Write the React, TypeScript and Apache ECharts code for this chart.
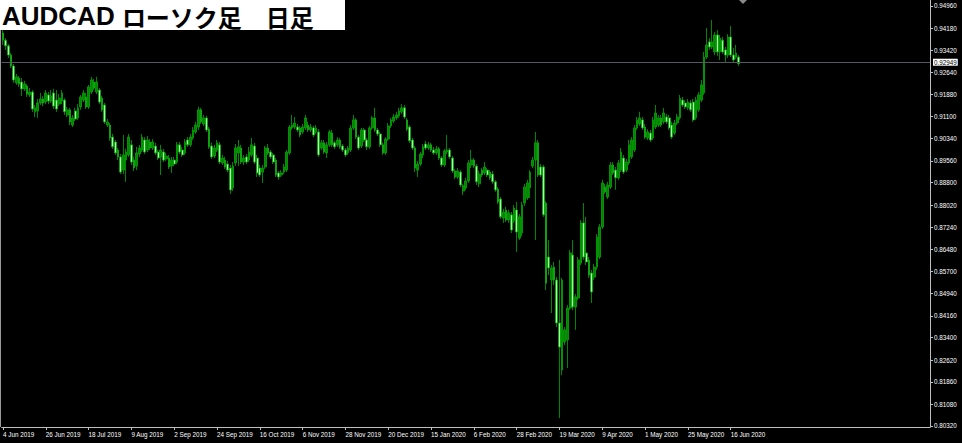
import React, { useEffect, useRef } from "react";
import * as echarts from "echarts";

const titleLatin = "AUDCAD ";
const titleJa = "ローソク足　日足";
const tickLabels = [
  "4 Jun 2019", "26 Jun 2019", "18 Jul 2019", "9 Aug 2019", "2 Sep 2019", "24 Sep 2019",
  "16 Oct 2019", "6 Nov 2019", "28 Nov 2019", "20 Dec 2019", "15 Jan 2020", "6 Feb 2020",
  "28 Feb 2020", "19 Mar 2020", "9 Apr 2020", "1 May 2020", "25 May 2020", "16 Jun 2020",
];
const barsPerLabel = 16;
const slotCount = 347;
const priceTicks = [
  0.8032, 0.8108, 0.8186, 0.8262, 0.834, 0.8416, 0.8494, 0.857, 0.8648, 0.8724,
  0.8802, 0.888, 0.8956, 0.9034, 0.911, 0.9188, 0.9264, 0.9342, 0.9418, 0.9496,
];
const yMin = 0.80285;
const yMax = 0.95169;
const lastPrice = 0.92949;

// [open, close, low, high]
const candles = [
  [0.9402, 0.9377, 0.936, 0.9412], [0.9377, 0.9357, 0.9343, 0.9384], [0.9357, 0.9325, 0.9315, 0.9363],
  [0.9325, 0.9287, 0.928, 0.9332], [0.9287, 0.9238, 0.9228, 0.9294], [0.9228, 0.9249, 0.9221, 0.9259],
  [0.9245, 0.9224, 0.9214, 0.9252], [0.9231, 0.9207, 0.9182, 0.9245], [0.9207, 0.9224, 0.92, 0.9235],
  [0.9217, 0.9189, 0.9179, 0.9224], [0.9186, 0.9196, 0.9179, 0.921], [0.9196, 0.9137, 0.9127, 0.9203],
  [0.9127, 0.9141, 0.9109, 0.9151], [0.913, 0.9158, 0.9106, 0.9172], [0.9158, 0.9172, 0.9151, 0.9193],
  [0.9172, 0.9158, 0.9147, 0.9182], [0.9161, 0.9193, 0.9154, 0.9203], [0.9186, 0.9165, 0.9154, 0.9196],
  [0.9165, 0.9182, 0.9158, 0.9203], [0.9193, 0.9147, 0.9137, 0.9207], [0.9168, 0.9137, 0.9127, 0.9203],
  [0.9154, 0.9175, 0.9147, 0.9189], [0.9165, 0.9193, 0.9154, 0.9203], [0.9168, 0.9127, 0.9116, 0.9175],
  [0.9116, 0.9134, 0.9109, 0.9144], [0.9134, 0.9092, 0.9081, 0.9141], [0.9081, 0.9106, 0.9074, 0.9116],
  [0.913, 0.9102, 0.9095, 0.9141], [0.9106, 0.9141, 0.9099, 0.9154], [0.9144, 0.9179, 0.9134, 0.9186],
  [0.9168, 0.9193, 0.9161, 0.9203], [0.9179, 0.9144, 0.9137, 0.9193], [0.9144, 0.9214, 0.9137, 0.9221],
  [0.9196, 0.9238, 0.9189, 0.9249], [0.9231, 0.921, 0.9203, 0.9242], [0.9196, 0.9231, 0.9189, 0.9249],
  [0.9203, 0.9161, 0.9154, 0.921], [0.9175, 0.9134, 0.9127, 0.9182], [0.9151, 0.9092, 0.9085, 0.9158],
  [0.9081, 0.9092, 0.9074, 0.9102], [0.9081, 0.9036, 0.9026, 0.9088], [0.9039, 0.9005, 0.8998, 0.905],
  [0.9022, 0.8984, 0.8977, 0.9029], [0.8994, 0.897, 0.8959, 0.9001], [0.897, 0.8917, 0.891, 0.898],
  [0.8924, 0.8977, 0.891, 0.9046], [0.8959, 0.8987, 0.8883, 0.8998], [0.8977, 0.9039, 0.897, 0.905],
  [0.9012, 0.8952, 0.8942, 0.9029], [0.8959, 0.8931, 0.8921, 0.897], [0.8938, 0.8984, 0.8924, 0.9005],
  [0.898, 0.9001, 0.897, 0.9012], [0.8994, 0.9039, 0.8987, 0.905], [0.9029, 0.8987, 0.898, 0.9039],
  [0.8994, 0.9029, 0.8987, 0.9043], [0.9022, 0.9001, 0.8994, 0.9032], [0.9001, 0.9022, 0.8994, 0.9032],
  [0.9008, 0.8984, 0.8977, 0.9019], [0.8987, 0.8966, 0.8959, 0.8994], [0.897, 0.8994, 0.8907, 0.9012],
  [0.8987, 0.8959, 0.8952, 0.8998], [0.8963, 0.8973, 0.8956, 0.8984], [0.8966, 0.8935, 0.8928, 0.8977],
  [0.8938, 0.8959, 0.8914, 0.897], [0.8959, 0.8945, 0.8938, 0.897], [0.8952, 0.9012, 0.8945, 0.9022],
  [0.9012, 0.8987, 0.898, 0.9022], [0.8994, 0.8977, 0.897, 0.9005], [0.8984, 0.9022, 0.8977, 0.9032],
  [0.9029, 0.9012, 0.9005, 0.9039], [0.9012, 0.9039, 0.9005, 0.905], [0.9036, 0.9064, 0.9029, 0.9074],
  [0.9057, 0.9081, 0.905, 0.9092], [0.9074, 0.9134, 0.9064, 0.9144], [0.9134, 0.9092, 0.9085, 0.9141],
  [0.9085, 0.9106, 0.9078, 0.9116], [0.9106, 0.9064, 0.9057, 0.9113], [0.9067, 0.9005, 0.8998, 0.9074],
  [0.9008, 0.897, 0.8963, 0.9019], [0.8973, 0.9001, 0.8966, 0.9012], [0.8994, 0.9019, 0.8987, 0.9029],
  [0.9012, 0.8952, 0.8945, 0.9022], [0.8949, 0.8966, 0.8942, 0.8977], [0.8959, 0.8935, 0.8928, 0.897],
  [0.8945, 0.8924, 0.8917, 0.8956], [0.8931, 0.8855, 0.8841, 0.8942], [0.8862, 0.8938, 0.8851, 0.8952],
  [0.8949, 0.9001, 0.8938, 0.9015], [0.8984, 0.9005, 0.8938, 0.9029], [0.9001, 0.8952, 0.8945, 0.9012],
  [0.8952, 0.8966, 0.8942, 0.8977], [0.897, 0.8952, 0.8945, 0.898], [0.8959, 0.8987, 0.8952, 0.9005],
  [0.8977, 0.9012, 0.897, 0.9036], [0.9008, 0.8952, 0.8945, 0.9019], [0.8966, 0.8914, 0.89, 0.8977],
  [0.8931, 0.8907, 0.89, 0.8942], [0.8917, 0.8931, 0.8879, 0.8942], [0.8935, 0.9001, 0.8928, 0.9008],
  [0.9001, 0.8984, 0.8977, 0.9015], [0.8987, 0.897, 0.8963, 0.8994], [0.8977, 0.8952, 0.8945, 0.8984],
  [0.8959, 0.8907, 0.89, 0.8966], [0.8914, 0.89, 0.889, 0.8921], [0.8907, 0.8914, 0.89, 0.8924],
  [0.8917, 0.8935, 0.891, 0.8945], [0.8924, 0.8987, 0.8917, 0.8994], [0.8984, 0.9074, 0.8977, 0.9081],
  [0.9071, 0.9081, 0.9064, 0.9116], [0.9074, 0.9088, 0.9067, 0.9109], [0.9074, 0.9064, 0.9057, 0.9085],
  [0.9071, 0.9046, 0.9039, 0.9078], [0.9057, 0.9074, 0.905, 0.9085], [0.9071, 0.9106, 0.9064, 0.9116],
  [0.9081, 0.9064, 0.9057, 0.9092], [0.9064, 0.9074, 0.9057, 0.9085], [0.9071, 0.9046, 0.9039, 0.9078],
  [0.9057, 0.9071, 0.905, 0.9081], [0.9057, 0.8977, 0.897, 0.9067], [0.9001, 0.9019, 0.8994, 0.9029],
  [0.9019, 0.8987, 0.898, 0.9029], [0.8984, 0.9012, 0.8966, 0.9022], [0.9012, 0.9057, 0.9005, 0.9064],
  [0.9053, 0.9012, 0.9005, 0.9064], [0.9019, 0.9005, 0.8998, 0.9026], [0.9012, 0.9029, 0.9005, 0.9039],
  [0.9029, 0.9005, 0.8998, 0.9036], [0.9008, 0.8994, 0.8987, 0.9015], [0.8994, 0.8977, 0.897, 0.9001],
  [0.8984, 0.9001, 0.8977, 0.9008], [0.8994, 0.9071, 0.8987, 0.9081], [0.9071, 0.9099, 0.9064, 0.9116],
  [0.9099, 0.9039, 0.9032, 0.9106], [0.9039, 0.9001, 0.8994, 0.9046], [0.9008, 0.9064, 0.9001, 0.9071],
  [0.9064, 0.9029, 0.9022, 0.9071], [0.9029, 0.9005, 0.8994, 0.9036], [0.9005, 0.9071, 0.8998, 0.9078],
  [0.9071, 0.9106, 0.9064, 0.9113], [0.9106, 0.9064, 0.9057, 0.9141], [0.9064, 0.905, 0.9043, 0.9071],
  [0.905, 0.9012, 0.9005, 0.9057], [0.9012, 0.8984, 0.8977, 0.9019], [0.8984, 0.9032, 0.8977, 0.9039],
  [0.9032, 0.9078, 0.9026, 0.9088], [0.9078, 0.9099, 0.9071, 0.9106], [0.9095, 0.9109, 0.9088, 0.912],
  [0.9106, 0.9116, 0.9099, 0.9127], [0.9113, 0.913, 0.9106, 0.9141], [0.9127, 0.9141, 0.912, 0.9154],
  [0.9141, 0.9109, 0.9102, 0.9151], [0.9099, 0.9067, 0.906, 0.9106], [0.9074, 0.9026, 0.9019, 0.9081],
  [0.9029, 0.9001, 0.8994, 0.9036], [0.9001, 0.8931, 0.8917, 0.9008], [0.8924, 0.8945, 0.89, 0.8956],
  [0.8945, 0.898, 0.8938, 0.8987], [0.8977, 0.9005, 0.8966, 0.9015], [0.9015, 0.9001, 0.8994, 0.9026],
  [0.9001, 0.9012, 0.8994, 0.9022], [0.9012, 0.8994, 0.8987, 0.9019], [0.8994, 0.8984, 0.8977, 0.9005],
  [0.8984, 0.8998, 0.8977, 0.9008], [0.8998, 0.8966, 0.8959, 0.9005], [0.8966, 0.8942, 0.8935, 0.8973],
  [0.8942, 0.8991, 0.8935, 0.8998], [0.8987, 0.8994, 0.898, 0.9046], [0.8994, 0.897, 0.8963, 0.9001],
  [0.8966, 0.8921, 0.8914, 0.8973], [0.8921, 0.89, 0.8893, 0.8928], [0.89, 0.8921, 0.8893, 0.8931],
  [0.8917, 0.8872, 0.8865, 0.8924], [0.8851, 0.8869, 0.8837, 0.8876], [0.8862, 0.8886, 0.8855, 0.8897],
  [0.8886, 0.8949, 0.8879, 0.8959], [0.8942, 0.8959, 0.8931, 0.8994], [0.8959, 0.8938, 0.8931, 0.8966],
  [0.8938, 0.8883, 0.8872, 0.8945], [0.8876, 0.891, 0.8865, 0.8921], [0.8924, 0.8907, 0.89, 0.8931],
  [0.8914, 0.8935, 0.8907, 0.8952], [0.8924, 0.8907, 0.89, 0.8931], [0.8917, 0.8897, 0.889, 0.8924],
  [0.891, 0.8883, 0.8876, 0.8921], [0.8883, 0.8855, 0.8848, 0.889], [0.8858, 0.8813, 0.8806, 0.8865],
  [0.8823, 0.8761, 0.8754, 0.883], [0.8757, 0.8778, 0.874, 0.8789], [0.8785, 0.875, 0.8743, 0.8796],
  [0.875, 0.8775, 0.874, 0.8785], [0.8768, 0.8715, 0.8705, 0.8778], [0.8747, 0.8792, 0.874, 0.8802],
  [0.8785, 0.8708, 0.8639, 0.8813], [0.8687, 0.8761, 0.868, 0.8771], [0.8705, 0.8803, 0.8694, 0.8813],
  [0.8809, 0.8865, 0.8799, 0.8876], [0.8827, 0.8879, 0.882, 0.889], [0.8862, 0.8917, 0.8827, 0.8924],
  [0.8938, 0.8959, 0.8931, 0.897], [0.8959, 0.9019, 0.868, 0.9057], [0.9019, 0.8907, 0.89, 0.9029],
  [0.8935, 0.8907, 0.89, 0.8945], [0.8935, 0.8768, 0.8761, 0.8942], [0.8809, 0.853, 0.8506, 0.8816],
  [0.8621, 0.8583, 0.8558, 0.868], [0.8541, 0.8583, 0.8426, 0.8593], [0.8586, 0.8541, 0.8524, 0.8604],
  [0.8541, 0.8391, 0.8377, 0.8551], [0.8391, 0.8307, 0.806, 0.8611], [0.8227, 0.8541, 0.821, 0.8548],
  [0.8325, 0.8367, 0.8314, 0.8377], [0.8332, 0.8443, 0.8234, 0.8454], [0.8443, 0.8635, 0.8436, 0.8646],
  [0.8628, 0.8447, 0.8436, 0.868], [0.8447, 0.8482, 0.8367, 0.8492], [0.8478, 0.8611, 0.8471, 0.8621],
  [0.86, 0.874, 0.8593, 0.875], [0.874, 0.8621, 0.8611, 0.8809], [0.8635, 0.8604, 0.8593, 0.8761],
  [0.8611, 0.8558, 0.8548, 0.8621], [0.8565, 0.8499, 0.8461, 0.8576], [0.8551, 0.8586, 0.8541, 0.8597],
  [0.8586, 0.8691, 0.8576, 0.8701], [0.8621, 0.8726, 0.8614, 0.8736], [0.8726, 0.8879, 0.8719, 0.889],
  [0.8865, 0.8848, 0.8841, 0.8876], [0.883, 0.8872, 0.8823, 0.8883], [0.8865, 0.8942, 0.8858, 0.8952],
  [0.8942, 0.8914, 0.8907, 0.8952], [0.8924, 0.8897, 0.8855, 0.8935], [0.8897, 0.8949, 0.889, 0.8959],
  [0.8924, 0.8987, 0.8917, 0.9001], [0.8966, 0.8917, 0.891, 0.8977], [0.8924, 0.8952, 0.8917, 0.8963],
  [0.8949, 0.9012, 0.8942, 0.9029], [0.897, 0.9029, 0.8963, 0.9039], [0.8994, 0.9071, 0.8987, 0.9081],
  [0.9071, 0.9099, 0.9064, 0.9109], [0.9085, 0.9106, 0.9078, 0.9127], [0.9099, 0.9071, 0.9064, 0.9109],
  [0.9074, 0.9039, 0.9032, 0.9085], [0.9036, 0.9057, 0.9029, 0.9067], [0.9053, 0.9029, 0.9022, 0.9064],
  [0.9036, 0.9099, 0.9029, 0.9109], [0.9074, 0.9123, 0.9067, 0.9151], [0.9081, 0.9106, 0.9074, 0.9116],
  [0.9106, 0.9081, 0.9074, 0.9116], [0.9092, 0.9123, 0.9085, 0.9141], [0.9109, 0.9092, 0.9085, 0.912],
  [0.9106, 0.9071, 0.9064, 0.9116], [0.9081, 0.9039, 0.9032, 0.9092], [0.9053, 0.9088, 0.9046, 0.9099],
  [0.9088, 0.9109, 0.9081, 0.912], [0.9106, 0.9175, 0.9099, 0.9186], [0.9168, 0.9151, 0.9144, 0.9179],
  [0.9158, 0.9144, 0.9137, 0.9168], [0.9141, 0.9161, 0.9134, 0.9172], [0.9158, 0.9134, 0.9127, 0.9168],
  [0.9161, 0.9099, 0.9092, 0.9172], [0.9106, 0.9168, 0.9099, 0.9179], [0.9134, 0.9186, 0.9127, 0.9196],
  [0.9168, 0.9221, 0.9161, 0.9238], [0.9193, 0.9318, 0.9186, 0.9336], [0.9318, 0.936, 0.9311, 0.9419],
  [0.9371, 0.9353, 0.9343, 0.9384], [0.9353, 0.9371, 0.9346, 0.9447], [0.9336, 0.9395, 0.9325, 0.9405],
  [0.9395, 0.9336, 0.9322, 0.9412], [0.9336, 0.9384, 0.9308, 0.9395], [0.9377, 0.9336, 0.9329, 0.9388],
  [0.9343, 0.9325, 0.9301, 0.9353], [0.9325, 0.9388, 0.9315, 0.9398], [0.9388, 0.9325, 0.9318, 0.9426],
  [0.9325, 0.9308, 0.9301, 0.935], [0.9318, 0.9332, 0.9311, 0.936], [0.9318, 0.9295, 0.9287, 0.9325],
];

const slots = Array.from({ length: slotCount }, (_, i) => String(i));

export default function App() {
  const ref = useRef<HTMLDivElement>(null);
  useEffect(() => {
    document.body.style.margin = "0";
    document.body.style.background = "#000";
    const chart = echarts.init(ref.current!, null, { renderer: "svg" });
    const font = "Liberation Sans, Arial, sans-serif";
    chart.setOption({
      animation: false,
      backgroundColor: "#000",
      grid: { left: -1.34, right: 32, top: 0, bottom: 16 },
      xAxis: {
        type: "category",
        data: slots,
        boundaryGap: true,
        axisLine: { show: true, lineStyle: { color: "#c0c0c0", width: 1 } },
        axisTick: {
          show: true,
          alignWithLabel: true,
          length: 3,
          interval: (i: number) => i % barsPerLabel === 0 && i / barsPerLabel < tickLabels.length,
          lineStyle: { color: "#c0c0c0" },
        },
        axisLabel: {
          interval: (i: number) => i % barsPerLabel === 0 && i / barsPerLabel < tickLabels.length,
          formatter: (_v: string, i: number) => tickLabels[i / barsPerLabel] ?? "",
          align: "left",
          color: "#ffffff",
          fontSize: 6.3,
          fontFamily: font,
          margin: 4,
        },
        splitLine: { show: false },
      },
      yAxis: {
        type: "value",
        position: "right",
        min: yMin,
        max: yMax,
        scale: true,
        axisLine: { show: true, lineStyle: { color: "#c0c0c0", width: 1 } },
        axisTick: { show: true, length: 3, customValues: priceTicks, lineStyle: { color: "#c0c0c0" } },
        axisLabel: {
          customValues: priceTicks,
          formatter: (v: number) => v.toFixed(5),
          color: "#ffffff",
          fontSize: 6.3,
          fontFamily: font,
          margin: 4,
        },
        splitLine: { show: false },
      },
      series: [
        {
          type: "candlestick",
          data: candles,
          barWidth: 2.2,
          itemStyle: {
            color: "#0c7e0c",
            color0: "#a8ffa8",
            borderColor: "#00a800",
            borderColor0: "#00a800",
            borderWidth: 0.8,
          },
          markLine: {
            silent: true,
            symbol: ["none", "none"],
            data: [{ yAxis: lastPrice }],
            lineStyle: { color: "#555862", width: 1, type: "solid" },
            label: {
              show: true,
              position: "end",
              distance: 3,
              formatter: () => lastPrice.toFixed(5),
              color: "#000",
              backgroundColor: "#ffffff",
              padding: [1, 1, 0, 1],
              fontSize: 6.3,
              fontFamily: font,
            },
          },
        },
      ],
      graphic: [
        { type: "line", shape: { x1: 0.5, y1: 0, x2: 0.5, y2: 427 }, style: { stroke: "#9a9a9a", lineWidth: 1 }, silent: true },
        { type: "polygon", shape: { points: [[739, 0], [747, 0], [743, 4]] }, style: { fill: "#8a8a8a" }, silent: true },
        { type: "rect", shape: { x: 0, y: 0, width: 345, height: 30 }, style: { fill: "#ffffff" }, silent: true },
        {
          type: "text",
          x: 2,
          y: 16,
          silent: true,
          style: {
            text: `{a|${titleLatin}}{b|${titleJa}}`,
            verticalAlign: "middle",
            rich: {
              a: { fontSize: 26, fontWeight: "bold", fontFamily: font, fill: "#000" },
              b: { fontSize: 24, fontWeight: "bold", fontFamily: "Noto Sans CJK JP, sans-serif", fill: "#000" },
            },
          },
        },
      ],
    });
    return () => chart.dispose();
  }, []);
  return <div ref={ref} style={{ width: 962, height: 443 }} />;
}
